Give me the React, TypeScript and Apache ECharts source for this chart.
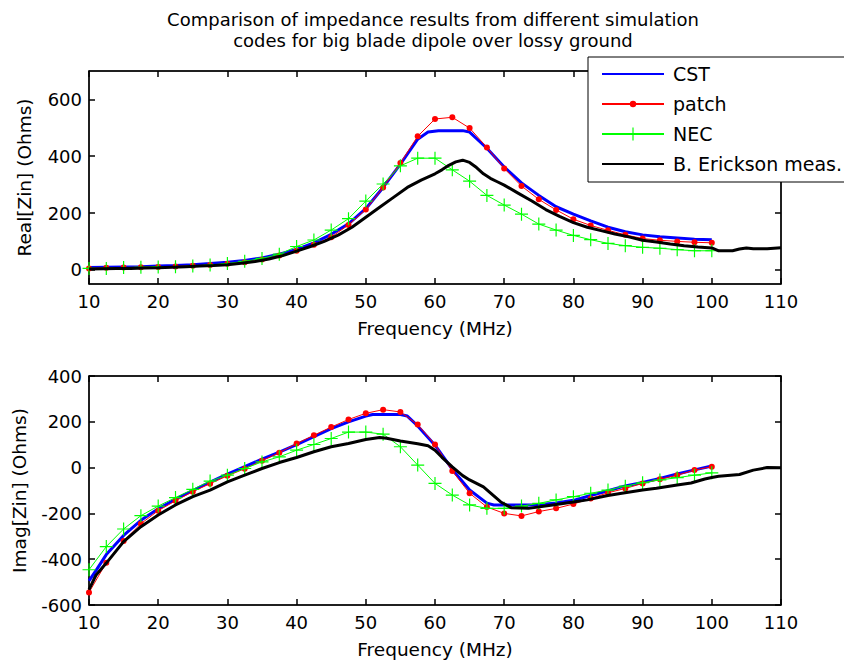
import React, { useEffect, useRef } from "react";
import * as echarts from "echarts";

const FONT = "'DejaVu Sans', sans-serif";

const titleLines = [
  "Comparison of impedance results from different simulation",
  "codes for big blade dipole over lossy ground",
];

const realTicks = [0, 200, 400, 600];
const imagTicks = [-600, -400, -200, 0, 200, 400];

// CST
const cstRealFreq = [10, 12.5, 15, 17.5, 20, 22.5, 25, 27.5, 30, 32.5, 35, 37.5, 40, 42.5, 45, 47.5, 50, 52.5, 55, 57.5, 59, 60.5, 64, 65, 67.5, 70, 72.5, 75, 77.5, 80, 82.5, 85, 87.5, 90, 92.5, 95, 97.5, 100];
const cstReal = [8, 9, 10, 11, 13, 15, 18, 22, 27, 33, 42, 55, 72, 95, 125, 162, 215, 290, 372, 460, 485, 490, 490, 485, 428, 362, 306, 262, 222, 196, 172, 150, 134, 123, 116, 112, 108, 106];
const cstImagFreq = [10, 11, 12.5, 15, 17.5, 20, 22.5, 25, 27.5, 30, 32.5, 35, 37.5, 40, 42.5, 45, 47.5, 50, 51, 55, 56, 57.5, 60, 62.5, 65, 67.5, 68.5, 74, 75, 77.5, 80, 82.5, 85, 87.5, 90, 92.5, 95, 97.5, 100];
const cstImag = [-495, -450, -380, -296, -230, -180, -138, -100, -63, -28, 4, 37, 68, 100, 135, 170, 200, 225, 232, 232, 225, 182, 98, -8, -98, -155, -163, -163, -162, -155, -143, -122, -101, -80, -65, -47, -28, -10, 7];

// patch and NEC share the 2.5 MHz frequency grid
const simFreq = [10, 12.5, 15, 17.5, 20, 22.5, 25, 27.5, 30, 32.5, 35, 37.5, 40, 42.5, 45, 47.5, 50, 52.5, 55, 57.5, 60, 62.5, 65, 67.5, 70, 72.5, 75, 77.5, 80, 82.5, 85, 87.5, 90, 92.5, 95, 97.5, 100];
const patchReal = [5, 7, 8, 9, 10, 12, 14, 17, 21, 27, 36, 50, 67, 88, 115, 158, 212, 290, 376, 470, 531, 537, 499, 431, 357, 295, 248, 211, 178, 156, 139, 123, 110, 104, 100, 97, 95];
const patchImag = [-545, -415, -320, -245, -188, -145, -105, -70, -36, -5, 30, 65, 105, 141, 177, 210, 237, 253, 243, 188, 101, -15, -112, -172, -200, -211, -192, -178, -159, -135, -110, -91, -69, -51, -33, -11, 4];
const necReal = [5, 5, 8, 9, 10, 11, 13, 17, 22, 30, 40, 55, 82, 105, 140, 180, 242, 302, 366, 393, 393, 352, 312, 262, 228, 196, 161, 140, 121, 106, 93, 85, 79, 76, 71, 67, 67];
const necImag = [-446, -345, -268, -210, -168, -131, -95, -59, -33, -4, 25, 47, 76, 101, 127, 155, 155, 146, 91, 11, -69, -120, -163, -178, -178, -168, -156, -141, -127, -112, -98, -81, -66, -54, -44, -33, -23];

// B. Erickson measurement
const measRealFreq = [10, 12, 14, 16, 18, 20, 22, 24, 26, 28, 30, 32, 34, 36, 38, 40, 42, 44, 46, 48, 50, 52, 54, 56, 58, 60, 61, 62, 63, 64, 65, 66, 67, 68, 69, 70, 72, 74, 76, 78, 80, 82, 84, 86, 88, 90, 92, 94, 96, 98, 100, 101, 103, 104, 105, 106, 108, 110];
const measReal = [3, 4, 5, 5, 6, 7, 9, 11, 13, 15, 18, 23, 29, 38, 50, 66, 82, 100, 122, 150, 185, 220, 255, 290, 316, 338, 352, 368, 380, 386, 378, 360, 338, 322, 310, 298, 270, 242, 212, 188, 166, 150, 138, 126, 116, 104, 98, 91, 85, 80, 77, 67, 67, 73, 77, 74, 74, 78];
const measImagFreq = [10, 11, 12.5, 15, 17.5, 20, 22.5, 25, 27.5, 30, 32.5, 35, 37.5, 40, 42.5, 45, 47.5, 50, 52, 53, 55, 57.5, 59, 60, 61, 62.5, 64, 65, 67, 68, 69.5, 71, 73.5, 77, 80, 82, 85, 87, 90, 92, 95, 97, 99, 100, 101, 104, 106, 108, 110];
const measImag = [-533, -470, -417, -323, -258, -207, -163, -127, -98, -62, -33, -4, 22, 44, 69, 91, 105, 123, 131, 128, 116, 104, 95, 76, 45, 3, -35, -54, -84, -110, -150, -175, -178, -163, -150, -141, -122, -112, -98, -90, -76, -67, -50, -43, -38, -30, -11, 0, -1];

const seriesNames = ["CST", "patch", "NEC", "B. Erickson meas."];

const pairs = (xs: number[], ys: number[]) => xs.map((x, i) => [x, ys[i]]);

// '+' marker (NEC) and a dot padded to half its box (patch), so both keep their
// relative sizes in the legend, where symbols share one size.
const PLUS =
  "path://M-0.09,-1 L0.09,-1 L0.09,-0.09 L1,-0.09 L1,0.09 L0.09,0.09 L0.09,1 L-0.09,1 L-0.09,0.09 L-1,0.09 L-1,-0.09 L-0.09,-0.09 Z";
const DOT = "path://M-2,-2 L-2,-2 M2,2 L2,2 M1,0 A1,1 0 1 1 -1,0 A1,1 0 1 1 1,0 Z";

const axisLineStyle = { color: "#000", width: 1.5 };
const labelStyle = { fontFamily: FONT, fontSize: 18, color: "#000" };
const nameStyle = { fontFamily: FONT, fontSize: 18.5, color: "#000" };

function makeX(gridIndex: number, main: boolean) {
  return {
    gridIndex,
    type: "value",
    min: 10,
    max: 110,
    interval: 10,
    position: main ? "bottom" : "top",
    axisLine: { show: true, onZero: false, lineStyle: axisLineStyle },
    axisTick: { show: true, inside: true, length: 6, lineStyle: axisLineStyle },
    axisLabel: main ? { show: true, margin: 8, ...labelStyle } : { show: false },
    splitLine: { show: false },
    name: main ? "Frequency (MHz)" : "",
    nameLocation: "middle",
    nameGap: 35,
    nameTextStyle: nameStyle,
  };
}

function makeY(gridIndex: number, main: boolean, min: number, max: number, ticks: number[], name: string, gap: number) {
  return {
    gridIndex,
    type: "value",
    min,
    max,
    position: main ? "left" : "right",
    axisLine: { show: true, onZero: false, lineStyle: axisLineStyle },
    axisTick: { show: true, inside: true, length: 6, lineStyle: axisLineStyle, customValues: ticks },
    axisLabel: main ? { show: true, margin: 7, customValues: ticks, ...labelStyle } : { show: false, customValues: ticks },
    splitLine: { show: false },
    name: main ? name : "",
    nameLocation: "middle",
    nameGap: gap,
    nameRotate: 90,
    nameTextStyle: nameStyle,
  };
}

function lineSeries(name: string, xi: number, yi: number, data: number[][]) {
  const base: any = { name, type: "line", xAxisIndex: xi, yAxisIndex: yi, data, animation: false };
  if (name === "CST") {
    return { ...base, symbol: "none", showSymbol: false, lineStyle: { color: "#0000ff", width: 3 }, itemStyle: { color: "#0000ff" }, z: 2 };
  }
  if (name === "patch") {
    return { ...base, symbol: DOT, symbolSize: 12, lineStyle: { color: "#ff0000", width: 1 }, itemStyle: { color: "#ff0000" }, z: 3 };
  }
  if (name === "NEC") {
    return { ...base, symbol: PLUS, symbolSize: 13, lineStyle: { color: "#00ff00", width: 1 }, itemStyle: { color: "#00ff00" }, z: 4 };
  }
  return { ...base, symbol: "none", showSymbol: false, lineStyle: { color: "#000000", width: 3 }, itemStyle: { color: "#000000" }, z: 5 };
}

export default function App() {
  const ref = useRef<HTMLDivElement>(null);
  useEffect(() => {
    if (!ref.current) return;
    const chart = echarts.init(ref.current, undefined, { renderer: "svg" });
    const option: any = {
      animation: false,
      backgroundColor: "#ffffff",
      graphic: [
        {
          type: "text",
          x: 433,
          y: 9,
          style: {
            text: titleLines.join("\n"),
            fontFamily: FONT,
            fontSize: 18,
            lineHeight: 21,
            fill: "#000",
            align: "center",
            verticalAlign: "top",
          },
        },
      ],
      grid: [
        { left: 89, top: 71, width: 692, height: 213, show: true, borderColor: "#000", borderWidth: 1, backgroundColor: "#fff" },
        { left: 89, top: 376, width: 692, height: 229, show: true, borderColor: "#000", borderWidth: 1, backgroundColor: "#fff" },
      ],
      xAxis: [makeX(0, true), makeX(0, false), makeX(1, true), makeX(1, false)],
      yAxis: [
        makeY(0, true, -50, 700, realTicks, "Real[Zin] (Ohms)", 55),
        makeY(0, false, -50, 700, realTicks, "", 0),
        makeY(1, true, -600, 400, imagTicks, "Imag[Zin] (Ohms)", 60),
        makeY(1, false, -600, 400, imagTicks, "", 0),
      ],
      legend: {
        orient: "vertical",
        left: 588,
        top: 57,
        padding: [7, 4, 8, 13],
        itemWidth: 62,
        itemHeight: 16,
        itemGap: 10,
        backgroundColor: "#fff",
        borderColor: "#000",
        borderWidth: 1,
        selectedMode: false,
        data: [
          { name: seriesNames[0], itemStyle: { opacity: 0 } },
          { name: seriesNames[1] },
          { name: seriesNames[2] },
          { name: seriesNames[3], itemStyle: { opacity: 0 } },
        ],
        textStyle: { fontFamily: FONT, fontSize: 19, color: "#000", lineHeight: 20, padding: [0, 0, 0, 4] },
        z: 10,
      },
      series: [
        lineSeries("CST", 0, 0, pairs(cstRealFreq, cstReal)),
        lineSeries("patch", 0, 0, pairs(simFreq, patchReal)),
        lineSeries("NEC", 0, 0, pairs(simFreq, necReal)),
        lineSeries("B. Erickson meas.", 0, 0, pairs(measRealFreq, measReal)),
        lineSeries("CST", 2, 2, pairs(cstImagFreq, cstImag)),
        lineSeries("patch", 2, 2, pairs(simFreq, patchImag)),
        lineSeries("NEC", 2, 2, pairs(simFreq, necImag)),
        lineSeries("B. Erickson meas.", 2, 2, pairs(measImagFreq, measImag)),
      ],
    };
    chart.setOption(option);
    return () => chart.dispose();
  }, []);
  return <div ref={ref} style={{ width: 844, height: 662, position: "absolute", left: 0, top: 0 }} />;
}
